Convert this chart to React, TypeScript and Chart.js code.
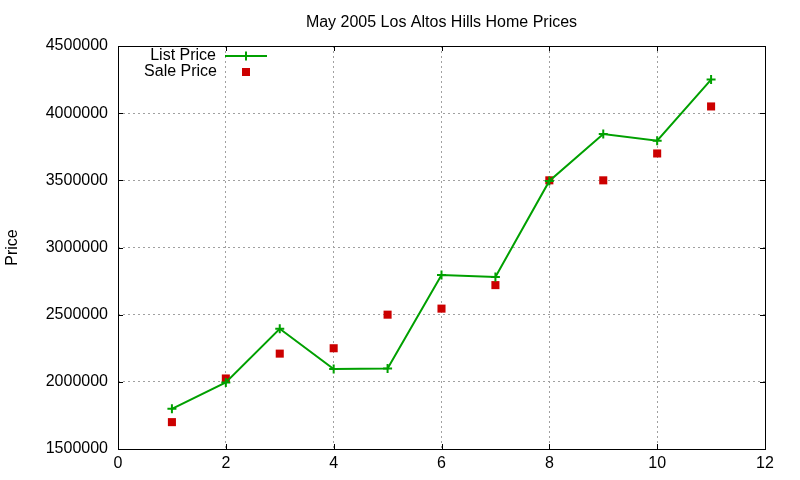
import React, { useEffect, useRef } from "react";
import { Chart, registerables } from "chart.js";

Chart.register(...registerables);

const xValues = [1, 2, 3, 4, 5, 6, 7, 8, 9, 10, 11];
const listPrice = [1799000, 1995000, 2395000, 2095000, 2100000, 2795000, 2780000, 3495000, 3845000, 3795000, 4250000];
const salePrice = [1700000, 2025000, 2210000, 2250000, 2500000, 2545000, 2720000, 3500000, 3500000, 3700000, 4050000];
const titleText = "May 2005 Los Altos Hills Home Prices";
const yTitle = "Price";
const seriesNames = ["List Price", "Sale Price"];

const FONT = "'Liberation Sans', Arial, Helvetica, sans-serif";
const GREEN = "#00a000";
const RED = "#cc0000";

const frameAndLegend = {
  id: "frameAndLegend",
  afterDatasetsDraw(chart: any) {
    const { ctx, chartArea: a, scales } = chart;
    ctx.save();
    ctx.setLineDash([]);
    ctx.strokeStyle = "#000";
    ctx.lineWidth = 1;
    // inward tick marks (mirrored)
    const tl = 5;
    const xs = scales.x;
    const ys = scales.y;
    ctx.beginPath();
    xs.ticks.forEach((t: any) => {
      const px = Math.round(xs.getPixelForValue(t.value)) + 0.5;
      ctx.moveTo(px, a.bottom);
      ctx.lineTo(px, a.bottom - tl);
      ctx.moveTo(px, a.top);
      ctx.lineTo(px, a.top + tl);
    });
    ys.ticks.forEach((t: any) => {
      const py = Math.round(ys.getPixelForValue(t.value)) + 0.5;
      ctx.moveTo(a.left, py);
      ctx.lineTo(a.left + tl, py);
      ctx.moveTo(a.right, py);
      ctx.lineTo(a.right - tl, py);
    });
    ctx.stroke();
    ctx.strokeRect(Math.round(a.left) + 0.5, Math.round(a.top) + 0.5, Math.round(a.right - a.left), Math.round(a.bottom - a.top));

    // legend
    ctx.font = `16px ${FONT}`;
    ctx.fillStyle = "#000";
    ctx.textAlign = "right";
    ctx.textBaseline = "middle";
    ctx.fillText(seriesNames[0], 216, 56);
    ctx.fillText(seriesNames[1], 217, 72);
    ctx.strokeStyle = GREEN;
    ctx.lineWidth = 2;
    ctx.beginPath();
    ctx.moveTo(225, 56);
    ctx.lineTo(267, 56);
    ctx.moveTo(246, 51.5);
    ctx.lineTo(246, 60.5);
    ctx.stroke();
    ctx.fillStyle = RED;
    ctx.fillRect(242, 68, 8, 8);
    ctx.restore();
  },
};

export default function App() {
  const ref = useRef<HTMLCanvasElement>(null);
  useEffect(() => {
    document.body.style.margin = "0";
    const canvas = ref.current!;
    const chart = new Chart(canvas, {
      type: "line",
      data: {
        datasets: [
          {
            label: seriesNames[0],
            data: xValues.map((x, i) => ({ x, y: listPrice[i] })),
            borderColor: GREEN,
            backgroundColor: GREEN,
            borderWidth: 2,
            pointStyle: "cross",
            pointRadius: 4.5,
            pointBorderWidth: 2,
            pointBorderColor: GREEN,
            tension: 0,
            fill: false,
          },
          {
            label: seriesNames[1],
            data: xValues.map((x, i) => ({ x, y: salePrice[i] })),
            showLine: false,
            borderColor: RED,
            backgroundColor: RED,
            pointStyle: "rect",
            pointRadius: 5.7,
            pointBorderWidth: 0,
          },
        ],
      },
      options: {
        responsive: false,
        animation: false,
        devicePixelRatio: 1,
        layout: { padding: { left: 0, right: 35, top: 0, bottom: 0 } },
        plugins: {
          legend: { display: false },
          tooltip: { enabled: false },
          title: {
            display: true,
            text: titleText,
            fullSize: false,
            color: "#000",
            font: { family: FONT, size: 16, weight: "normal" },
            padding: { top: 12.5, bottom: 14.3 },
          },
        },
        scales: {
          x: {
            type: "linear",
            min: 0,
            max: 12,
            ticks: {
              stepSize: 2,
              color: "#000",
              padding: 5,
              font: { family: FONT, size: 16 },
              maxRotation: 0,
            },
            grid: { color: "#a0a0a0", lineWidth: 1, drawTicks: false, borderDash: [2, 3] } as any,
            border: { display: false, dash: [2, 3] },
            afterFit: (s: any) => {
              s.height = 31;
            },
          },
          y: {
            type: "linear",
            min: 1500000,
            max: 4500000,
            ticks: {
              stepSize: 500000,
              color: "#000",
              padding: 10,
              font: { family: FONT, size: 16 },
              callback: (v: any) => String(v),
            },
            grid: { color: "#a0a0a0", lineWidth: 1, drawTicks: false, borderDash: [2, 3] } as any,
            border: { display: false, dash: [2, 3] },
            title: {
              display: true,
              text: yTitle,
              color: "#000",
              font: { family: FONT, size: 16 },
              padding: { top: 3, bottom: 0 },
            },
            afterFit: (s: any) => {
              s.width = 118;
            },
          },
        },
      },
      plugins: [frameAndLegend],
    });
    return () => chart.destroy();
  }, []);
  return (
    <div style={{ position: "absolute", left: 0, top: 0, width: 800, height: 480, background: "#fff" }}>
      <canvas ref={ref} width={800} height={480} style={{ display: "block" }} />
    </div>
  );
}
